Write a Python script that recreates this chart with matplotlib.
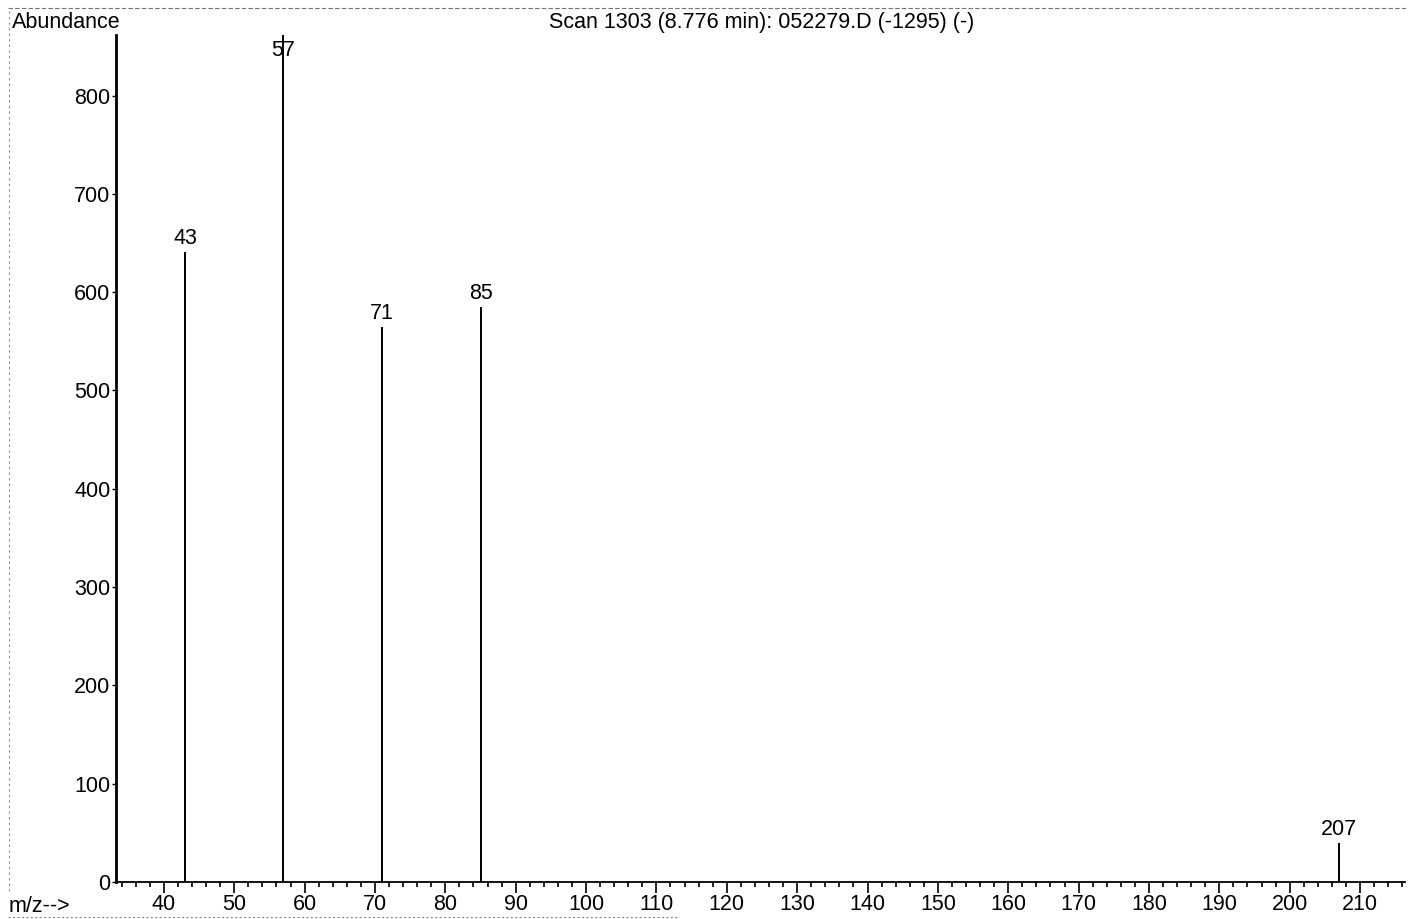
import matplotlib.pyplot as plt
from matplotlib.ticker import MultipleLocator

# peak list
mz = [43, 57, 71, 85, 207]
abundance = [641, 862, 565, 585, 40]
peak_labels = ['43', '57', '71', '85', '207']

x_ticks = list(range(40, 220, 10))
y_ticks = list(range(0, 900, 100))

title = 'Scan 1303 (8.776 min): 052279.D (-1295) (-)'

plt.rcParams['font.family'] = ['Liberation Sans', 'DejaVu Sans']

fig = plt.figure(figsize=(14.15, 9.19), dpi=100)
ax = fig.add_axes([0.082, 0.0403, 0.911, 0.922])

ax.vlines(mz, 0, abundance, color='black', linewidth=1.4)
for x, y, lab in zip(mz, abundance, peak_labels):
    if lab == '57':
        # base peak runs through its own label at the top of the axis
        ax.text(x, 846, lab, ha='center', va='center', fontsize=15.5)
    else:
        ax.text(x, y + 3, lab, ha='center', va='bottom', fontsize=15.5)

ax.set_xlim(33.2, 216.4)
ax.set_ylim(0, 862)
ax.set_xticks(x_ticks)
ax.set_yticks(y_ticks)
ax.xaxis.set_minor_locator(MultipleLocator(2))
ax.tick_params(axis='x', which='major', direction='out', length=8, width=1.2, labelsize=15.5, pad=1)
ax.tick_params(axis='x', which='minor', direction='out', length=3.6, width=1.2)
ax.tick_params(axis='y', which='major', direction='out', length=3, width=1, labelsize=15.5, pad=1)

for side in ['top', 'right']:
    ax.spines[side].set_visible(False)
ax.spines['left'].set_linewidth(2)
ax.spines['bottom'].set_linewidth(1.3)

fig.text(0.0085, 0.976, 'Abundance', ha='left', va='center', fontsize=15.5)
fig.text(0.0057, 0.014, 'm/z-->', ha='left', va='center', fontsize=15.5)
fig.text(0.538, 0.976, title, ha='center', va='center', fontsize=15.5)

# faint scanned page border
fig.add_artist(plt.Line2D([0.006, 0.995], [0.991, 0.991], color='0.45', linewidth=0.8,
                          linestyle=(0, (4, 2)), transform=fig.transFigure))
fig.add_artist(plt.Line2D([0.0065, 0.0065], [0.03, 0.991], color='0.55', linewidth=0.8,
                          linestyle=(0, (2, 3)), transform=fig.transFigure))
fig.add_artist(plt.Line2D([0.006, 0.48], [0.0025, 0.0025], color='0.55', linewidth=0.8,
                          linestyle=(0, (2, 2)), transform=fig.transFigure))

fig.savefig('out.png', dpi=100)
